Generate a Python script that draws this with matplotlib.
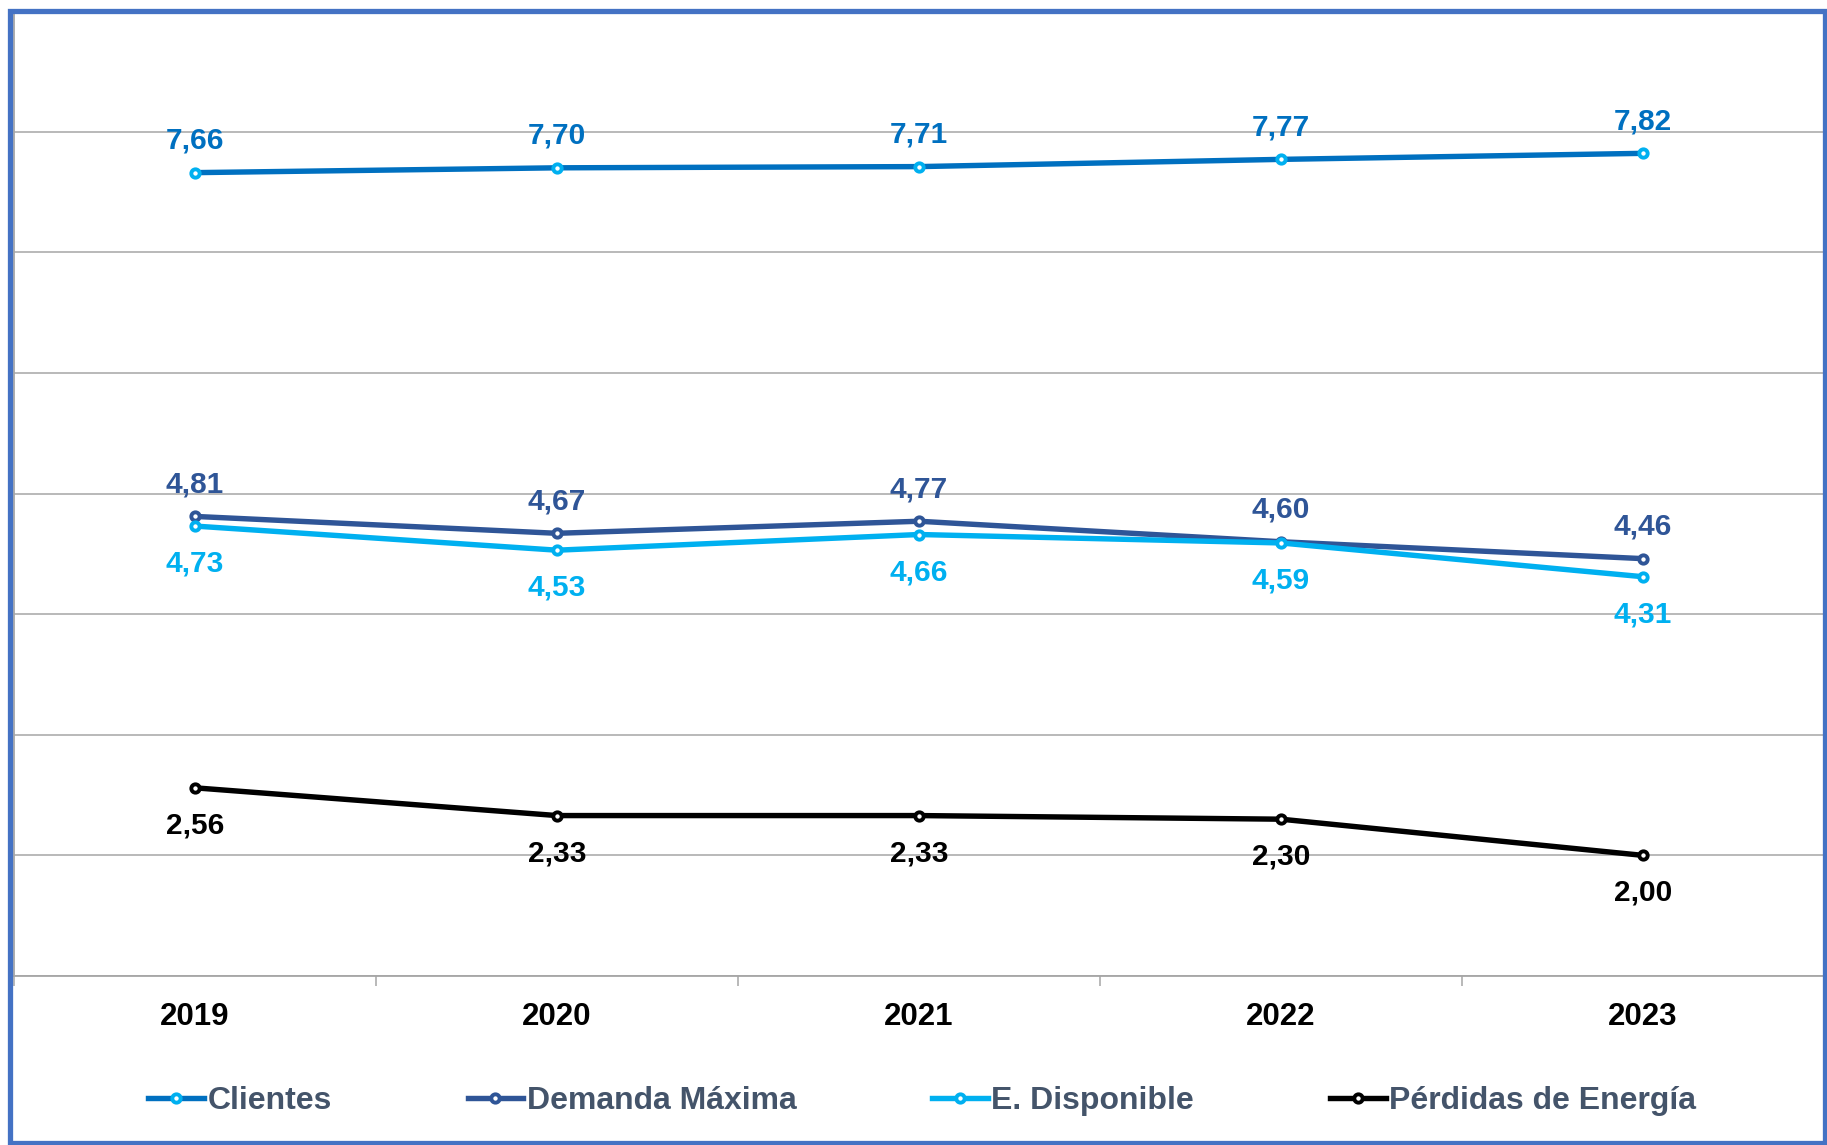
import matplotlib
matplotlib.use("Agg")
import matplotlib.pyplot as plt
from matplotlib.patches import Rectangle
from matplotlib.lines import Line2D

plt.rcParams['font.family'] = ['Liberation Sans', 'DejaVu Sans']
plt.rcParams['font.weight'] = 'bold'

years = ['2019', '2020', '2021', '2022', '2023']
clientes = [7.66, 7.70, 7.71, 7.77, 7.82]
demanda = [4.81, 4.67, 4.77, 4.60, 4.46]
disponible = [4.73, 4.53, 4.66, 4.59, 4.31]
perdidas = [2.56, 2.33, 2.33, 2.30, 2.00]

names = ['Clientes', 'Demanda Máxima', 'E. Disponible', 'Pérdidas de Energía']
line_colors = ['#0070C0', '#2F5597', '#00B0F0', '#000000']
edge_colors = ['#00B0F0', '#2F5597', '#00B0F0', '#000000']
label_colors = ['#0070C0', '#2F5597', '#00B0F0', '#000000']
label_side = [1, 1, -1, -1]   # 1 = above point, -1 = below
series = [clientes, demanda, disponible, perdidas]

W, H = 1827, 1145
fig = plt.figure(figsize=(W / 100, H / 100), dpi=100)
ax = fig.add_axes([14 / W, 1 - 976 / H, (1824 - 14) / W, (976 - 11) / H])

x = list(range(len(years)))
handles = []
for vals, name, lc, ec, tc, side in zip(series, names, line_colors, edge_colors,
                                       label_colors, label_side):
    ax.plot(x, vals, color=lc, lw=3.9, marker='o', ms=6, mew=2.8,
            mfc='white', mec=ec, zorder=3, solid_capstyle='round')
    off = 23 if side > 0 else -27
    for xi, v in zip(x, vals):
        ax.annotate(f'{v:.2f}'.replace('.', ','), (xi, v),
                    xytext=(0, off), textcoords='offset points',
                    ha='center', va='center', fontsize=21.5, fontweight='bold',
                    color=tc, zorder=4)
    handles.append(Line2D([], [], color=lc, lw=3.9, marker='o', ms=6, mew=2.8,
                          mfc='white', mec=ec))

ax.set_xlim(-0.5, len(years) - 0.5)
ax.set_ylim(1, 9)
ax.set_yticks(range(1, 10))
ax.set_yticklabels([])
ax.tick_params(axis='y', length=0)
ax.grid(axis='y', color='#A6A6A6', lw=1.1, zorder=0)

ax.set_xticks(x)
ax.set_xticklabels(years, fontsize=22.5, fontweight='bold', color='black')
ax.set_xticks([i - 0.5 for i in range(len(years) + 1)], minor=True)
ax.tick_params(axis='x', which='major', length=0, pad=19)
ax.tick_params(axis='x', which='minor', length=7, width=1.1, color='#A6A6A6',
               direction='out')

for s in ['top', 'right']:
    ax.spines[s].set_visible(False)
for s in ['left', 'bottom']:
    ax.spines[s].set_color('#A6A6A6')
    ax.spines[s].set_linewidth(1.3)

leg = fig.legend(handles, names, loc='center', bbox_to_anchor=(0.5047, 44 / H),
                 ncol=4, frameon=False, fontsize=23, handlelength=1.75,
                 handletextpad=0.1, columnspacing=4.25)
for t in leg.get_texts():
    t.set_color('#44546A')
    t.set_fontweight('bold')

# blue outer frame
fig.patches.append(Rectangle((10 / W, 2 / H), (1825 - 10) / W, (1134.5 - 2) / H,
                             transform=fig.transFigure, fill=False,
                             edgecolor='#4472C4', lw=3.8, zorder=10))

fig.savefig('out.png', dpi=100)
